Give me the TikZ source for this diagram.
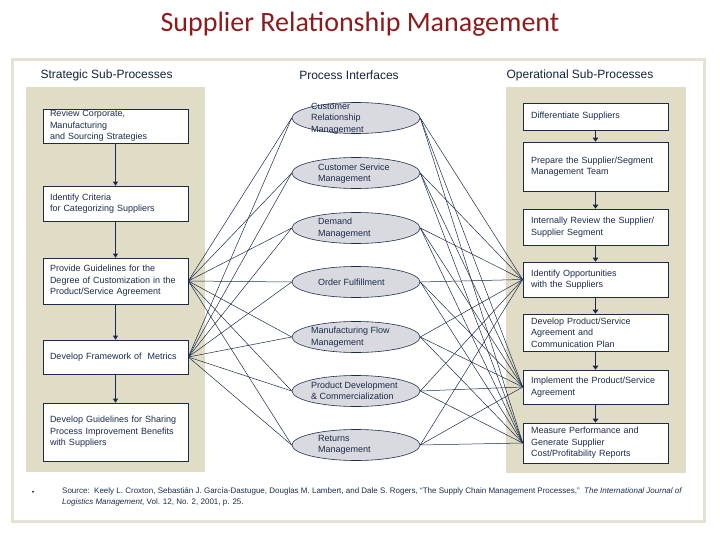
\documentclass[tikz,border=0pt]{standalone}
\usepackage{fontspec}
\setmainfont{Liberation Sans}
\newfontfamily\titlefont{Carlito}
\usetikzlibrary{arrows.meta,shapes.geometric}
\definecolor{navy}{HTML}{1C2B4B}
\definecolor{panelbg}{HTML}{E0DCC6}
\definecolor{framebg}{HTML}{E4E2D2}
\definecolor{ovalbg}{HTML}{D8DADF}
\definecolor{srmred}{HTML}{8E1B1B}
\tikzset{
  procbox/.style={rectangle,draw=navy,fill=white,line width=0.6pt,text=navy,
    inner xsep=7pt,inner ysep=0pt,text width=131pt,align=left,
    font=\fontsize{9}{11.5}\selectfont},
  opbox/.style={procbox,inner xsep=8pt,text width=129pt},
  iface/.style={ellipse,draw=navy,fill=ovalbg,line width=0.6pt,
    minimum width=128pt,minimum height=31pt,inner sep=0pt},
  itext/.style={anchor=west,align=left,text=navy,inner sep=0pt,
    font=\fontsize{9}{11.5}\selectfont},
  head/.style={text=navy!80!black,font=\fontsize{12}{14}\selectfont},
  stratflow/.style={draw=navy,line width=0.7pt,-{Triangle[width=5pt,length=4pt]}},
  opflow/.style={draw=navy,line width=1.6pt,-{Triangle[width=5.5pt,length=4pt]}},
  link/.style={draw=navy,line width=0.5pt}
}
\begin{document}
\begin{tikzpicture}[x=1pt,y=-1pt]
\useasboundingbox (0,0) rectangle (720,540);
% frame and panels
\draw[framebg,line width=3pt] (12,60) rectangle (704,521);
\fill[panelbg] (26,87) rectangle (205,472);
\fill[panelbg] (506,87) rectangle (686,473);
% title and headings
\node[text=srmred,font=\titlefont\fontsize{28}{30}\selectfont] (title) at (360,24) {Supplier Relationship Management};
\node[head,anchor=west] (strathead) at (37,75) {Strategic Sub-Processes};
\node[head] (ifacehead) at (349,75) {Process Interfaces};
\node[head] (ophead) at (580,75) {Operational Sub-Processes};
% strategic sub-processes
\node[procbox,minimum height=34pt] (review) at (115.5,126) {Review Corporate,\\Manufacturing\\and Sourcing Strategies};
\node[procbox,minimum height=35pt] (criteria) at (115.5,203.5) {Identify Criteria\\for Categorizing Suppliers};
\node[procbox,minimum height=46pt] (guide) at (115.5,281) {Provide Guidelines for the\\Degree of Customization in the\\Product/Service Agreement};
\node[procbox,minimum height=34pt] (metrics) at (115.5,357) {Develop Framework of \ Metrics};
\node[procbox,minimum height=58pt] (sharing) at (115.5,432) {Develop Guidelines for Sharing\\Process Improvement Benefits\\with Suppliers};
\draw[stratflow] (review)--(criteria);
\draw[stratflow] (criteria)--(guide);
\draw[stratflow] (guide)--(metrics);
\draw[stratflow] (metrics)--(sharing);
% operational sub-processes
\node[opbox,minimum height=27pt] (diff) at (595.5,116.5) {Differentiate Suppliers};
\node[opbox,minimum height=49pt] (team) at (595.5,166.5) {Prepare the Supplier/Segment\\Management Team};
\node[opbox,minimum height=36pt] (internal) at (595.5,227) {Internally Review the Supplier/\\Supplier Segment};
\node[opbox,minimum height=35pt] (opport) at (595.5,279.5) {Identify Opportunities\\with the Suppliers};
\node[opbox,minimum height=37pt] (plan) at (595.5,332.5) {Develop Product/Service\\Agreement and\\Communication Plan};
\node[opbox,minimum height=34pt] (implement) at (595.5,387) {Implement the Product/Service\\Agreement};
\node[opbox,minimum height=40pt] (measure) at (595.5,443) {Measure Performance and\\Generate Supplier\\Cost/Profitability Reports};
\draw[opflow] (diff)--(team);
\draw[opflow] (team)--(internal);
\draw[opflow] (internal)--(opport);
\draw[opflow] (opport)--(plan);
\draw[opflow] (plan)--(implement);
\draw[opflow] (implement)--(measure);
% process interfaces
\node[iface] (crm) at (356,118) {};
\node[iface] (csm) at (356,173) {};
\node[iface] (dem) at (356,228) {};
\node[iface] (ordf) at (356,282) {};
\node[iface] (mfg) at (356,337) {};
\node[iface] (pdc) at (356,391) {};
\node[iface] (ret) at (356,445) {};
\node[itext] (crmtext) at (311,118.5) {Customer\\Relationship\\Management};
\node[itext] (csmtext) at (318,173.5) {Customer Service\\Management};
\node[itext] (demtext) at (318,228) {Demand\\Management};
\node[itext] (ordftext) at (318,282) {Order Fulfillment};
\node[itext] (mfgtext) at (311,337) {Manufacturing Flow\\Management};
\node[itext] (pdctext) at (311,391) {Product Development\\\&~Commercialization};
\node[itext] (rettext) at (318,445) {Returns\\Management};
% links
\foreach \p in {crm,csm,dem,ordf,mfg,pdc,ret} {
  \draw[link] (guide.east)--(\p.west);
  \draw[link] (metrics.east)--(\p.west);
  \draw[link] (\p.east)--(opport.west);
  \draw[link] (\p.east)--(implement.west);
  \draw[link] (\p.east)--(measure.west);
}
% source
\node[text=navy,font=\fontsize{7}{11}\selectfont] (bullet) at (33,493) {•};
\node[anchor=north west,align=left,text=navy,inner sep=0pt,font=\fontsize{8}{11}\selectfont] (source) at (62,487)
  {Source:\ \ Keely L. Croxton, Sebastián J. García-Dastugue, Douglas M. Lambert, and Dale S. Rogers, “The Supply Chain Management Processes,”\ \ \textit{The International Journal of}\\\textit{Logistics Management}, Vol. 12, No. 2, 2001, p. 25.};
\end{tikzpicture}
\end{document}
